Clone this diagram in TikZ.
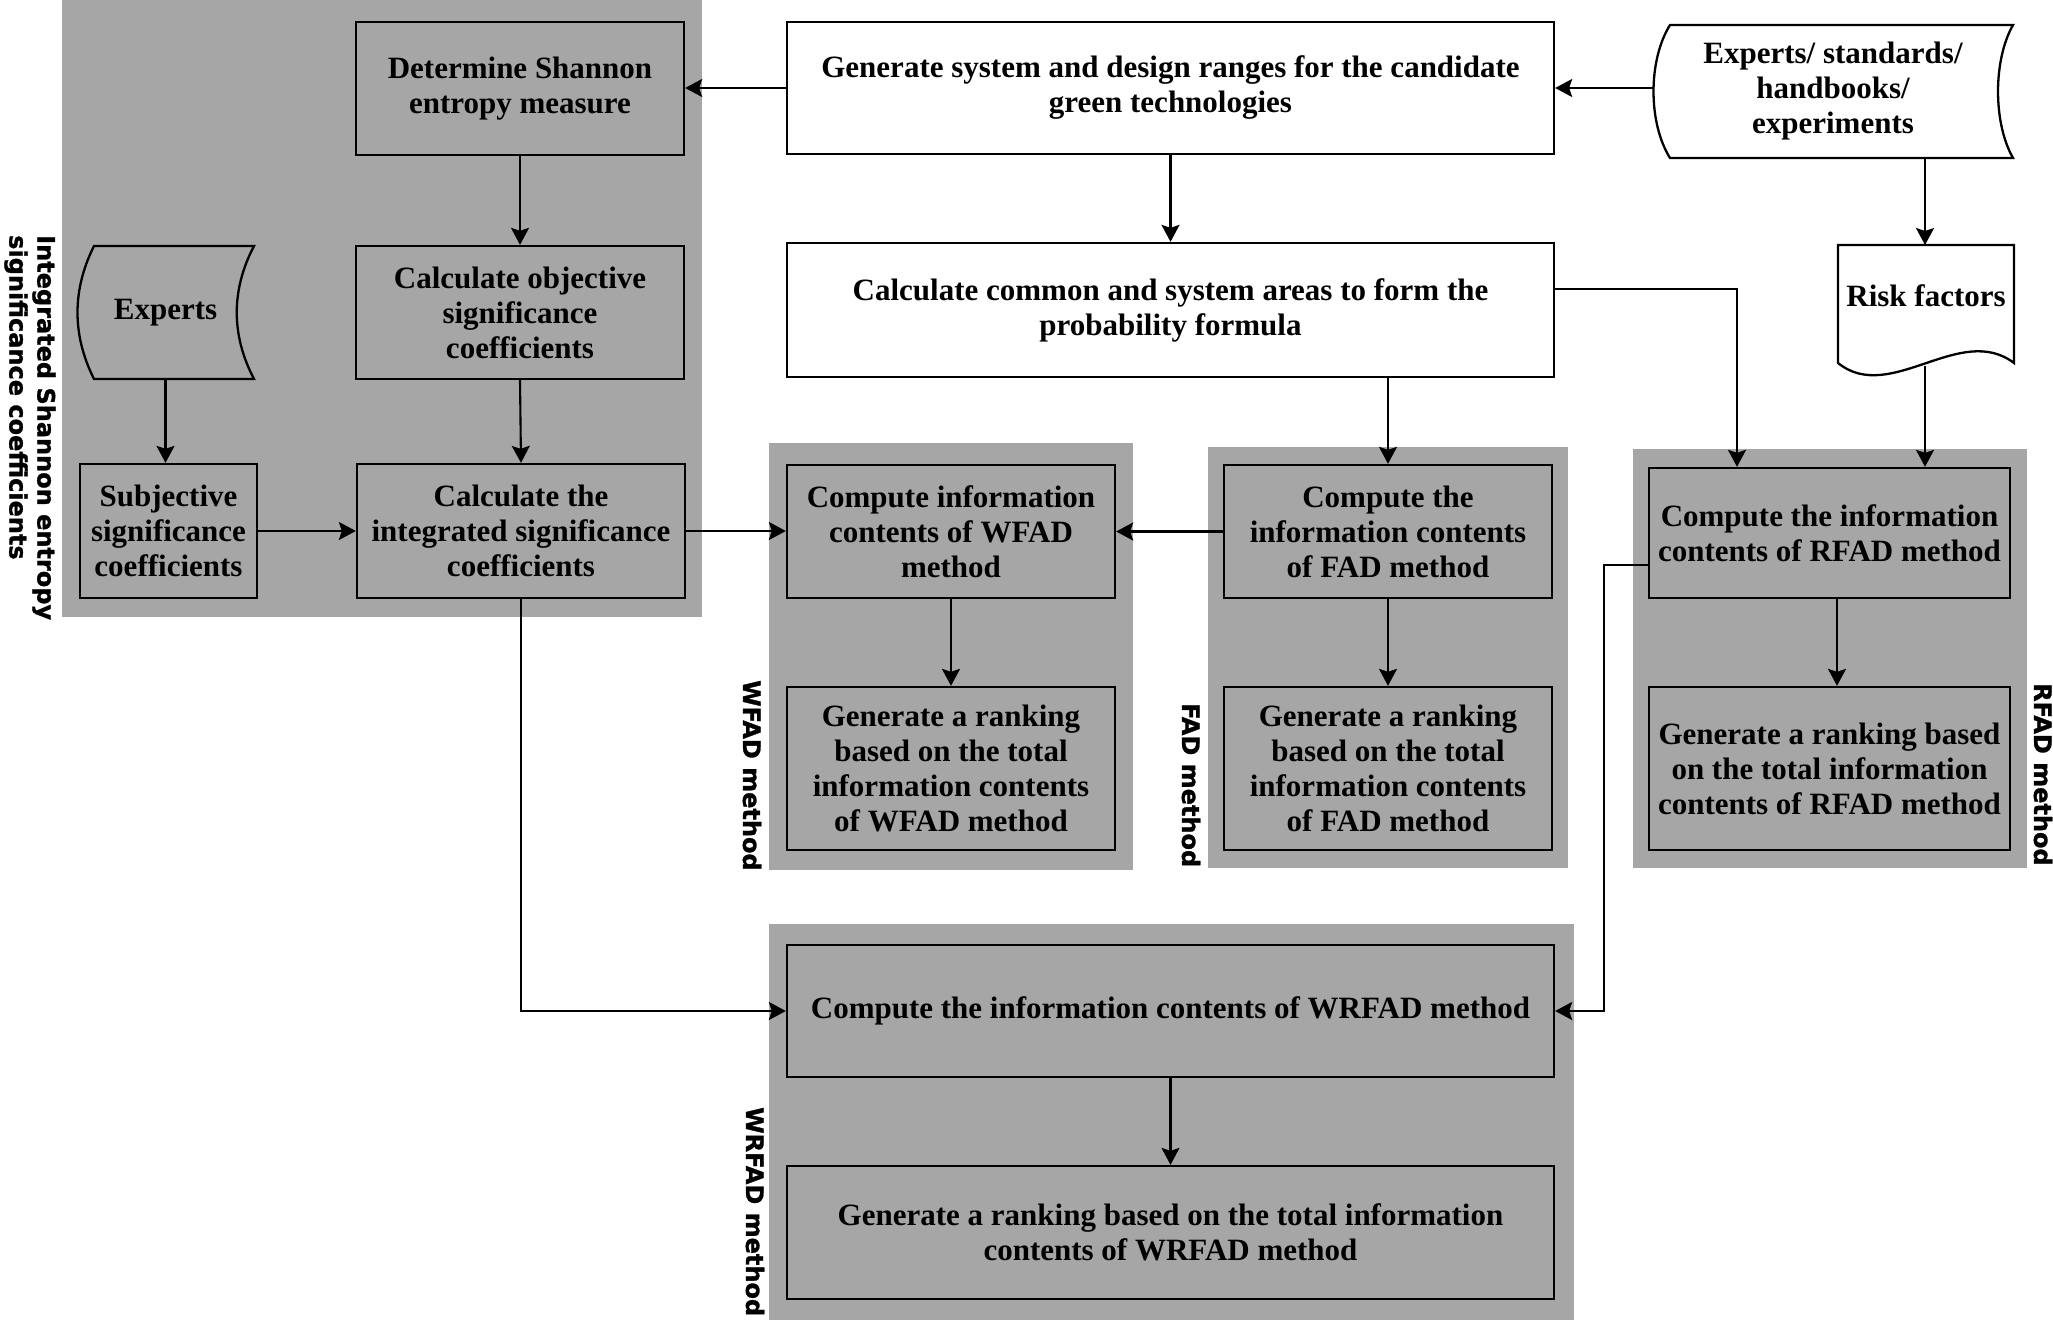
\documentclass[tikz,border=0pt]{standalone}
\usepackage{fontspec}
\setmainfont{Liberation Serif}
\newfontfamily\lblfont{DejaVu Sans}[BoldFeatures={FakeBold=1.2}]
\usetikzlibrary{arrows.meta}
\definecolor{panelgray}{HTML}{A6A6A6}
\begin{document}
\begin{tikzpicture}[x=1pt,y=-1pt,
  gbox/.style={draw, line width=2.3pt, fill=panelgray, align=center, inner sep=0pt,
    font=\fontsize{31}{35}\selectfont\bfseries},
  wbox/.style={gbox, fill=white},
  ghost/.style={inner sep=0pt, align=center, font=\fontsize{31}{35}\selectfont\bfseries},
  arr/.style={line width=2.1pt, -{Stealth[length=17pt,width=18pt,inset=3pt]}},
  shapeline/.style={line width=2.3pt},
  lbl/.style={rotate=-90, anchor=west, inner sep=0pt, align=left,
    font=\lblfont\bfseries\fontsize{24}{28}\selectfont},
]
\useasboundingbox (0,0) rectangle (2053,1320);
\fill[white] (0,0) rectangle (2053,1320);

% panels
\fill[panelgray] (62,0) rectangle (702,617);
\fill[panelgray] (769,443) rectangle (1133,870);
\fill[panelgray] (1208,447) rectangle (1568,868);
\fill[panelgray] (1633,449) rectangle (2027,868);
\fill[panelgray] (769,924) rectangle (1574,1320);

% panel labels
\node[lbl] (lblint) at (30,235) {Integrated Shannon entropy\\significance coefficients};
\node[lbl] (lblwfad) at (752,680) {WFAD method};
\node[lbl] (lblfad) at (1191,703) {FAD method};
\node[lbl] (lblrfad) at (2043,683) {RFAD method};
\node[lbl] (lblwrfad) at (755,1107) {WRFAD method};

% stored data shapes
\draw[shapeline, fill=panelgray] (94,246) -- (254,246)
  .. controls (231,290) and (231,335) .. (254,379) -- (94,379)
  .. controls (72,335) and (72,290) .. (94,246) -- cycle;
\draw[shapeline, fill=white] (1670,25) -- (2013,25)
  .. controls (1993,60) and (1993,123) .. (2013,158) -- (1670,158)
  .. controls (1648,123) and (1648,60) .. (1670,25) -- cycle;
% document shape
\draw[shapeline, fill=white] (1838,363) -- (1838,245) -- (2014,245) -- (2014,363)
  .. controls (1960,322) and (1890,405) .. (1838,363) -- cycle;

% nodes
\node[gbox, minimum width=328pt, minimum height=133pt] (shannon) at (520,88.5) {Determine Shannon\\entropy measure};
\node[gbox, minimum width=328pt, minimum height=133pt] (calcobj) at (520,312.5) {Calculate objective\\significance\\coefficients};
\node[gbox, minimum width=328pt, minimum height=134pt] (calcint) at (521,531) {Calculate the\\integrated significance\\coefficients};
\node[gbox, minimum width=177pt, minimum height=134pt] (subj) at (168.5,531) {Subjective\\significance\\coefficients};
\node[ghost, minimum width=177pt, minimum height=133pt] (experts) at (165.5,312.5) {Experts};

\node[wbox, minimum width=767pt, minimum height=132pt] (gensys) at (1170.5,88) {Generate system and design ranges for the candidate\\green technologies};
\node[wbox, minimum width=767pt, minimum height=134pt] (calccommon) at (1170.5,310) {Calculate common and system areas to form the\\probability formula};
\node[ghost, minimum width=360pt, minimum height=133pt] (expstd) at (1833,91.5) {Experts/ standards/\\handbooks/\\experiments};
\node[ghost] (riskf) at (1926,296) {Risk factors};
\coordinate (rft) at (1925,245);
\coordinate (rfb) at (1925,366);

\node[gbox, minimum width=328pt, minimum height=133pt] (cwfad) at (951,531.5) {Compute information\\contents of WFAD\\method};
\node[gbox, minimum width=328pt, minimum height=163pt] (gwfad) at (951,768.5) {Generate a ranking\\based on the total\\information contents\\of WFAD method};
\node[gbox, minimum width=328pt, minimum height=133pt] (cfad) at (1388,531.5) {Compute the\\information contents\\of FAD method};
\node[gbox, minimum width=328pt, minimum height=163pt] (gfad) at (1388,768.5) {Generate a ranking\\based on the total\\information contents\\of FAD method};
\node[gbox, minimum width=361pt, minimum height=130pt] (crfad) at (1829.5,533) {Compute the information\\contents of RFAD method};
\node[gbox, minimum width=361pt, minimum height=163pt] (grfad) at (1829.5,768.5) {Generate a ranking based\\on the total information\\contents of RFAD method};
\node[gbox, minimum width=767pt, minimum height=132pt] (cwrfad) at (1170.5,1011) {Compute the information contents of WRFAD method};
\node[gbox, minimum width=767pt, minimum height=133pt] (gwrfad) at (1170.5,1232.5) {Generate a ranking based on the total information\\contents of WRFAD method};

% connectors
\draw[arr] (gensys.west) -- (gensys.west -| shannon.east);
\draw[arr] (gensys.east -| expstd.west) -- (gensys.east);
\draw[arr] (gensys.south) -- (calccommon.north);
\draw[arr] (shannon.south) -- (calcobj.north);
\draw[arr] (calcobj.south) -- (calcint.north);
\draw[arr] (experts.south) -- (experts.south |- subj.north);
\draw[arr] (subj.east) -- (subj.east -| calcint.west);
\draw[arr] (calcint.east) -- (calcint.east -| cwfad.west);
\draw[arr] (cfad.west) -- (cwfad.east);
\draw[arr] (calccommon.south -| cfad.north) -- (cfad.north);
\draw[arr] ([yshift=21pt]calccommon.east) -| ([xshift=-92.5pt]crfad.north);
\draw[arr] (expstd.south -| rft) -- (rft);
\draw[arr] (rfb) -- (rfb |- crfad.north);
\draw[arr] (cwfad.south) -- (gwfad.north);
\draw[arr] (cfad.south) -- (gfad.north);
\draw[arr] ([xshift=7.5pt]crfad.south) -- ([xshift=7.5pt]grfad.north);
\draw[arr] (cwrfad.south) -- (gwrfad.north);
\draw[arr] ([yshift=-32pt]crfad.west) -- ++(-44,0) |- (cwrfad.east);
\draw[arr] (calcint.south) |- (cwrfad.west);
\end{tikzpicture}
\end{document}
